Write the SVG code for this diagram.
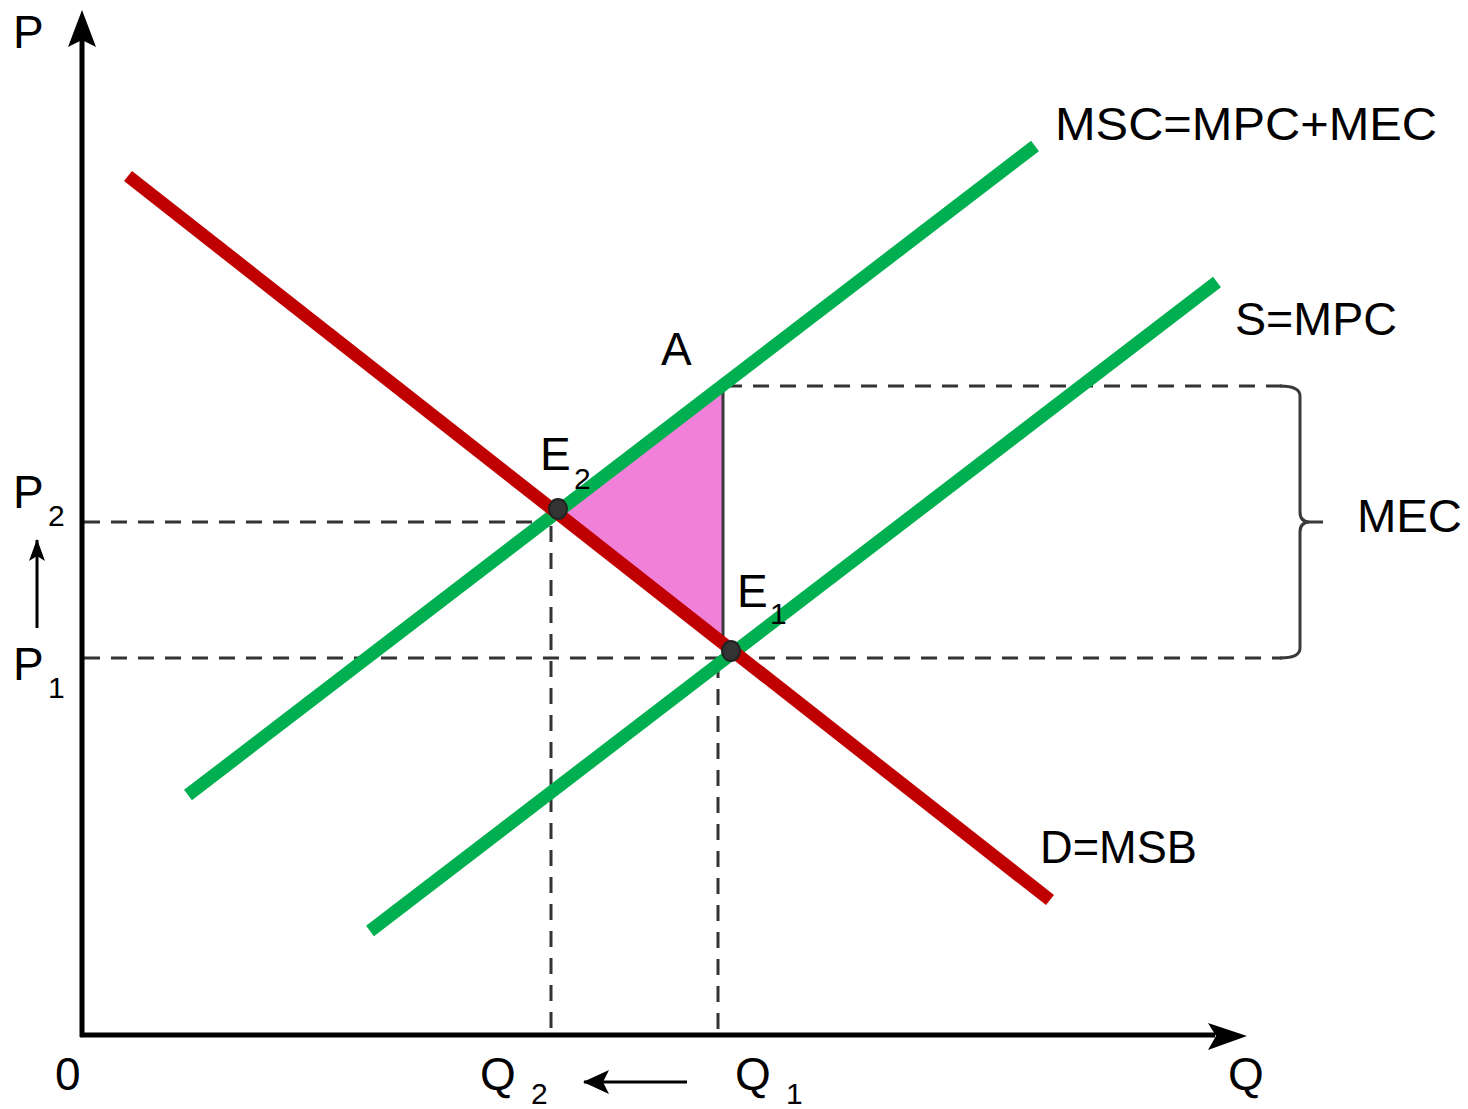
<svg xmlns="http://www.w3.org/2000/svg" width="1468" height="1109" viewBox="0 0 1468 1109">
<defs>
<style>
text{font-family:"Liberation Sans","DejaVu Sans",sans-serif;fill:#000}
.lbl{font-size:46px}
.sub{font-size:30px}
.dash{stroke:#333;stroke-width:3;stroke-dasharray:16 11;fill:none}
.green{stroke:#00B050;stroke-width:13;fill:none}
.red{stroke:#C00000;stroke-width:13;fill:none}
.axis{stroke:#000;stroke-width:5;fill:none}
.thin{stroke:#000;stroke-width:3;fill:none}
.dot{fill:#333;stroke:#222;stroke-width:2}
</style>
<marker id="ah" markerWidth="22" markerHeight="16" refX="21" refY="8" orient="auto" markerUnits="userSpaceOnUse" viewBox="0 0 22 16">
<path d="M0,0 L22,8 L0,16 L5,8 Z" fill="#000"/>
</marker>
<marker id="ahs" markerWidth="26" markerHeight="24" refX="25" refY="12" orient="auto" markerUnits="userSpaceOnUse" viewBox="0 0 26 24">
<path d="M0,0 L26,12 L0,24 L6,12 Z" fill="#000"/>
</marker>
</defs>
<rect width="1468" height="1109" fill="#fff"/>

<g id="area">
<polygon points="558,510 723,386 723,643" fill="#F080D8"/>
</g>

<g id="guides">
<line class="dash" x1="84" y1="522" x2="553" y2="522"/>
<line class="dash" x1="84" y1="658" x2="1282" y2="658"/>
<line class="dash" x1="726" y1="386" x2="1282" y2="386"/>
<line class="dash" x1="551" y1="526" x2="551" y2="1033"/>
<line class="dash" x1="718" y1="662" x2="718" y2="1033"/>
<line x1="723" y1="386" x2="723" y2="645" stroke="#3a3a3a" stroke-width="3"/>
<path id="brace" d="M1280,386 Q1300,386 1300,396 L1300,512 Q1300,522 1310,522 L1323,522 M1310,522 Q1300,522 1300,532 L1300,648 Q1300,658 1280,658" stroke="#3a3a3a" stroke-width="3" fill="none"/>
</g>

<g id="connectors">
<line id="msc" class="green" x1="188" y1="795" x2="1035" y2="146"/>
<line id="smpc" class="green" x1="370" y1="931" x2="1217" y2="282"/>
<line id="demand" class="red" x1="128" y1="176" x2="1050" y2="900"/>
</g>

<g id="axes">
<line class="axis" x1="82" y1="1037" x2="82" y2="40"/>
<path d="M82,10 L96,47 L82,40 L68,47 Z" fill="#000"/>
<line class="axis" x1="80" y1="1035" x2="1215" y2="1035"/>
<path d="M1247,1036 L1208,1023 L1216,1036 L1208,1050 Z" fill="#000"/>
<line class="thin" x1="37" y1="628" x2="37" y2="540" marker-end="url(#ah)"/>
<line class="thin" x1="687" y1="1082" x2="584" y2="1082" marker-end="url(#ahs)"/>
</g>

<g id="points">
<ellipse id="E2" class="dot" cx="558" cy="509" rx="9" ry="10"/>
<ellipse id="E1" class="dot" cx="731" cy="651" rx="9" ry="10"/>
</g>

<g id="labels">
<text class="lbl" x="13" y="48">P</text>
<text class="lbl" x="1055" y="140" textLength="382" lengthAdjust="spacingAndGlyphs">MSC=MPC+MEC</text>
<text class="lbl" x="1235" y="335" textLength="162" lengthAdjust="spacingAndGlyphs">S=MPC</text>
<text class="lbl" x="661" y="365">A</text>
<text class="lbl" x="540" y="470">E</text><text class="sub" x="574" y="489">2</text>
<text class="lbl" x="13" y="508">P</text><text class="sub" x="48" y="526">2</text>
<text class="lbl" x="13" y="680">P</text><text class="sub" x="48" y="698">1</text>
<text class="lbl" x="737" y="607">E</text><text class="sub" x="770" y="624">1</text>
<text class="lbl" x="1357" y="532" textLength="105" lengthAdjust="spacingAndGlyphs">MEC</text>
<text class="lbl" x="1040" y="863" textLength="157" lengthAdjust="spacingAndGlyphs">D=MSB</text>
<text class="lbl" x="55" y="1090">0</text>
<text class="lbl" x="480" y="1090">Q</text><text class="sub" x="531" y="1104">2</text>
<text class="lbl" x="735" y="1090">Q</text><text class="sub" x="786" y="1104">1</text>
<text class="lbl" x="1228" y="1090">Q</text>
</g>
</svg>
